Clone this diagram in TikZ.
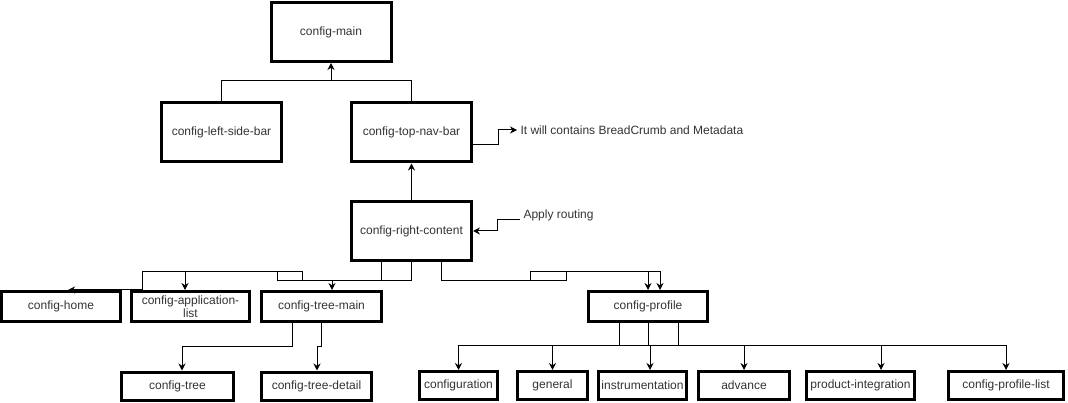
\documentclass[tikz,border=0pt]{standalone}
\usepackage{fontspec}
\setmainfont{Liberation Sans}
\usetikzlibrary{arrows.meta}
\tikzset{
  box/.style = {draw=black, line width=3pt, inner sep=1pt, align=center,
    text=black!80, font=\fontsize{12}{13}\selectfont},
  bigbox/.style = {box, minimum width=120pt, minimum height=59pt},
  midbox/.style = {box, minimum width=119pt, minimum height=30pt},
  leaf/.style = {box, minimum height=28pt},
  note/.style = {inner sep=3pt, anchor=west, text=black!80,
    font=\fontsize{12}{14}\selectfont}
}
\begin{document}
\begin{tikzpicture}[x=1pt, y=-1pt, line width=1pt, >={Stealth[length=7pt,width=7pt]}]
\useasboundingbox (0,0) rectangle (1068,403);
\node [bigbox] (main) at (331,32) {config-main};
\node [bigbox] (left) at (221.5,132.5) {config-left-side-bar};
\node [bigbox] (nav) at (411.5,132.5) {config-top-nav-bar};
\node [bigbox] (rc) at (411.5,231) {config-right-content};
\node [note] (bc) at (517,130) {It will contains BreadCrumb and Metadata};
\node [note] (ar) at (520,215) {Apply routing};

\node [midbox] (home) at (61,306.5) {config-home};
\node [midbox, minimum width=118pt] (app) at (190.5,306.5) {config-application-\\list};
\node [midbox, minimum width=120pt] (tmain) at (321.5,306.5) {config-tree-main};
\node [midbox] (profile) at (648,306.5) {config-profile};

\node [leaf, minimum width=112pt] (tree) at (177.5,386) {config-tree};
\node [leaf, minimum width=110pt] (detail) at (316.5,386) {config-tree-detail};

\node [leaf, minimum width=78pt] (cfg) at (458.5,385.5) {configuration};
\node [leaf, minimum width=70pt] (gen) at (552.5,385.5) {general};
\node [leaf, minimum width=88pt] (instr) at (642.5,385.5) {instrumentation};
\node [leaf, minimum width=91pt] (adv) at (744,385.5) {advance};
\node [leaf, minimum width=108pt] (pint) at (860.5,385.5) {product-integration};
\node [leaf, minimum width=115pt] (cpl) at (1006,385.5) {config-profile-list};

\coordinate (jmain) at (331,81);
\draw[->] (left.north) |- (jmain) -- (main.south);
\draw (nav.north) |- (jmain);
\draw[->] (rc.north) -- (nav.south);
\draw[->] ([yshift=-12pt]nav.east) -| ([xshift=-19pt]bc.west) -- (bc.west);
\draw[->] ([yshift=-5pt]ar.west) -| ([xshift=24pt]rc.east) -- (rc.east);

\draw[->] ([xshift=-30pt]rc.south) |- (277,281) |- (142,272) |- ([xshift=7pt]home.north);
\draw[->] (rc.south) |- (302,281) |- (185,272) -- ([xshift=-5.5pt]app.north);
\draw[->] ([xshift=-30pt]rc.south) |- (332,281) -- ([xshift=10.5pt]tmain.north);
\draw[->] ([xshift=30pt]rc.south) |- (566,281) |- (648,272) -- (profile.north);
\draw[->] ([xshift=30pt]rc.south) |- (530,281) |- (660,272) -- ([xshift=12pt]profile.north);

\draw[->] ([xshift=-29.5pt]tmain.south) |- (182,346) -- ([xshift=4.5pt]tree.north);
\draw[->] ([xshift=-0.5pt]tmain.south) |- (317,346) -- ([xshift=0.5pt]detail.north);

\draw[->] ([xshift=-29pt]profile.south) -- ++(0,22) -| (cfg.north);
\draw[->] ([xshift=-29pt]profile.south) -- ++(0,22) -| (gen.north);
\draw[->] ([xshift=-29pt]profile.south) -- ++(0,22) -| ([xshift=7.5pt]instr.north);
\draw[->] (profile.south) -- ++(0,22) -| (adv.north);
\draw[->] ([xshift=30pt]profile.south) -- ++(0,22) -| ([xshift=20.5pt]pint.north);
\draw[->] ([xshift=30pt]profile.south) -- ++(0,22) -| (cpl.north);
\end{tikzpicture}
\end{document}
